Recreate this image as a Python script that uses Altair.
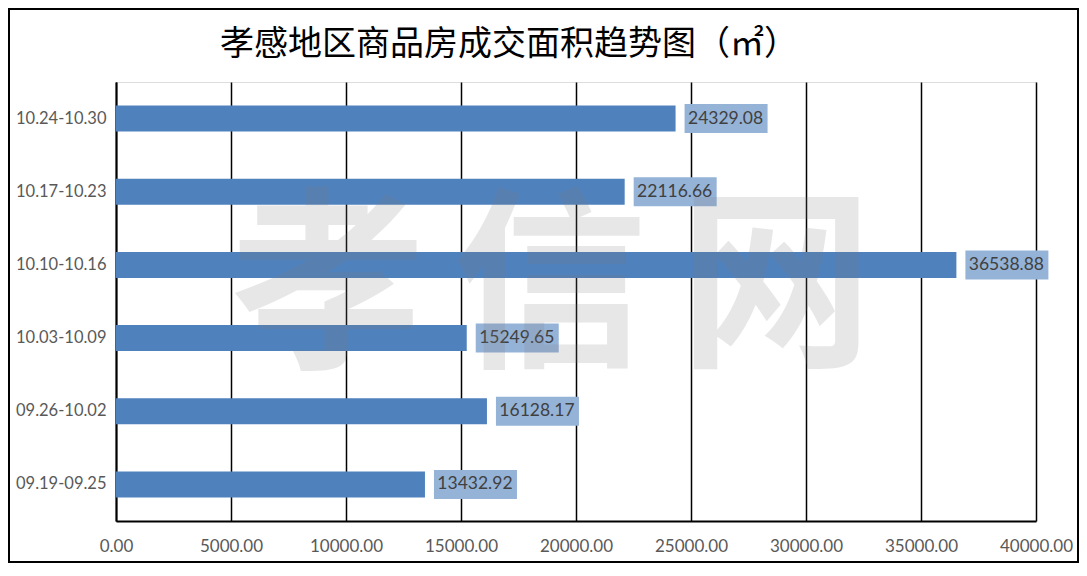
import altair as alt
import pandas as pd

categories = ["10.24-10.30", "10.17-10.23", "10.10-10.16", "10.03-10.09", "09.26-10.02", "09.19-09.25"]
values = [24329.08, 22116.66, 36538.88, 15249.65, 16128.17, 13432.92]
labels = ["24329.08", "22116.66", "36538.88", "15249.65", "16128.17", "13432.92"]
x_ticks = [0, 5000, 10000, 15000, 20000, 25000, 30000, 35000, 40000]
title_text = "孝感地区商品房成交面积趋势图（㎡）"
watermark_chars = ["孝", "信", "网"]

df = pd.DataFrame({"period": categories, "area": values, "label": labels})

W, H = 920, 439
FONT = "Lato"

y_enc = alt.Y("period:N", sort=categories, title=None,
              scale=alt.Scale(paddingInner=0.64, paddingOuter=0.32),
              axis=alt.Axis(labelFontSize=16.5, labelColor="#595959", labelFont=FONT,
                            labelPadding=10, ticks=False, domainColor="#000000",
                            domainWidth=2, grid=False))
x_scale = alt.Scale(domain=[0, 40000], nice=False)

bars = alt.Chart(df).mark_bar(color="#4F81BD", size=26).encode(
    x=alt.X("area:Q", scale=x_scale, title=None,
            axis=alt.Axis(values=x_ticks, format=".2f", labelFontSize=17, labelColor="#595959",
                          labelFont=FONT, labelPadding=17, ticks=False, domainColor="#000000",
                          domainWidth=2, grid=True, gridColor="#000000", gridWidth=1.5,
                          labelOverlap=False, labelFlush=False)),
    y=y_enc,
)

boxes = alt.Chart(df).mark_bar(color="#95B3D7", size=29, xOffset=9, x2Offset=92).encode(
    x=alt.X("area:Q", scale=x_scale),
    x2="area:Q",
    y=alt.Y("period:N", sort=categories),
)

texts = alt.Chart(df).mark_text(align="center", baseline="middle", dx=50, fontSize=17.5,
                                font=FONT, color="#404040").encode(
    x=alt.X("area:Q", scale=x_scale),
    y=alt.Y("period:N", sort=categories),
    text="label:N",
)

wm_layers = []
for ch, px in zip(watermark_chars, [212, 434, 660]):
    wm_layers.append(
        alt.Chart(pd.DataFrame({"t": [ch]})).mark_text(
            align="center", baseline="middle", fontSize=194, font="Noto Sans CJK SC",
            fontWeight="bold", color="#808080", opacity=0.18
        ).encode(x=alt.value(px), y=alt.value(212), text="t:N")
    )

title = alt.Chart(pd.DataFrame({"t": [title_text]})).mark_text(
    align="left", baseline="middle", fontSize=34, font="Noto Sans CJK SC",
    color="#000000"
).encode(x=alt.value(104), y=alt.value(-37), text="t:N")

border = alt.Chart(pd.DataFrame({"a": [0]})).mark_rect(
    fill=None, stroke="#000000", strokeWidth=2
).encode(x=alt.value(-107), x2=alt.value(962), y=alt.value(-73), y2=alt.value(480))

chart = alt.layer(bars, boxes, texts, *wm_layers, title, border).properties(
    width=W, height=H,
    autosize=alt.AutoSizeParams(type="none"),
    padding={"left": 108, "top": 74, "right": 43, "bottom": 42},
).configure_view(stroke=None).configure(background="#FFFFFF")

chart.save("out.html", embed_options={"renderer": "svg", "actions": False})
